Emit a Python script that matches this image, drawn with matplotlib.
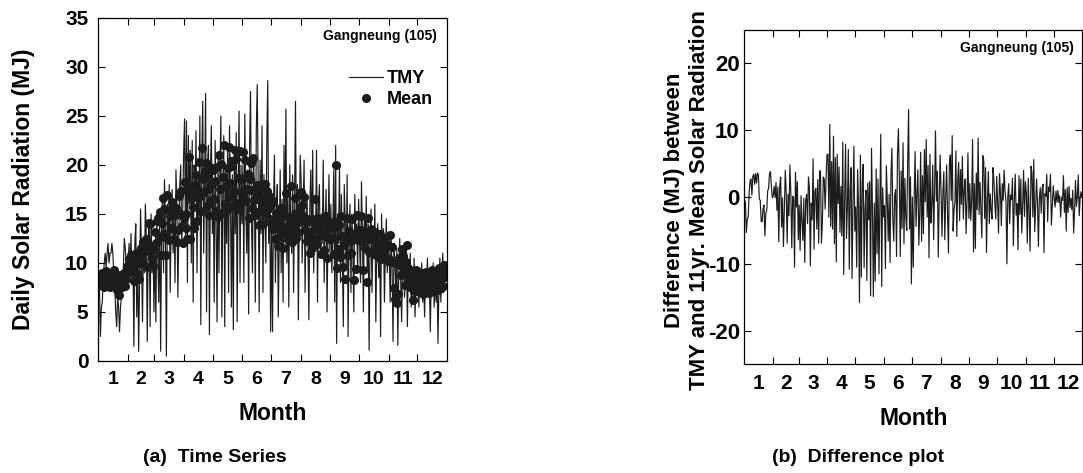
"""Daily solar radiation at Gangneung: TMY vs 11-yr mean, and their difference."""

import matplotlib
import matplotlib.pyplot as plt
import numpy as np

matplotlib.use("Agg")

plt.rcParams["font.family"] = ["Liberation Sans", "DejaVu Sans"]
plt.rcParams["font.weight"] = "bold"
plt.rcParams["axes.unicode_minus"] = False

STATION = "Gangneung (105)"
MONTH_LABELS = [str(m) for m in range(1, 13)]
MONTH_DAYS = [31, 28, 31, 30, 31, 30, 31, 31, 30, 31, 30, 31]

# daily TMY radiation (MJ), one line per month
TMY = [
    8.0, 7.5, 2.5, 5.5, 6.0, 8.5, 10.0, 11.0, 9.5, 11.0, 12.0, 10.0, 11.0, 11.0, 12.0, 11.0,
    9.0, 7.5, 5.0, 3.5, 6.5, 5.5, 3.0, 5.5, 6.5, 8.5, 9.5, 12.5, 11.5, 10.0, 9.5,
    10.0, 12.0, 9.0, 13.0, 8.0, 11.0, 1.5, 12.0, 14.0, 4.5, 10.5, 1.0, 8.0, 15.5,
    11.0, 4.0, 12.5, 9.0, 16.0, 13.0, 2.0, 12.0, 14.0, 3.5, 15.0, 9.0, 12.0, 5.0,
    12.0, 4.0, 14.5, 11.0, 6.0, 15.0, 1.0, 13.5, 17.0, 9.0, 18.5, 14.0, 0.5, 16.0, 12.0,
    18.0, 7.0, 14.5, 17.5, 11.0, 15.0, 8.0, 19.5, 16.0, 6.5, 13.0, 18.0, 20.0, 12.0, 15.0, 21.0,
    24.7, 12.0, 24.5, 8.0, 23.0, 16.0, 21.5, 10.0, 22.5, 6.0, 20.0, 17.0, 23.5, 9.0, 19.0,
    14.5, 25.0, 3.7, 21.0, 26.5, 11.0, 18.0, 27.3, 5.0, 20.0, 22.0, 2.7, 19.0, 24.0, 13.0,
    18.0, 6.0, 22.5, 14.0, 4.0, 21.0, 9.0, 19.5, 25.0, 4.5, 17.0, 23.0, 3.5, 20.0, 12.0, 22.0,
    7.0, 24.0, 16.5, 5.5, 19.0, 3.2, 21.5, 13.0, 23.3, 4.0, 18.0, 25.5, 8.0, 20.0, 14.0,
    20.0, 8.0, 25.2, 16.0, 11.0, 19.5, 4.8, 22.0, 27.5, 14.0, 9.0, 21.0, 17.5, 6.0, 23.5,
    28.2, 18.0, 5.0, 20.5, 13.0, 24.0, 7.0, 19.0, 15.0, 10.0, 22.5, 28.6, 12.0, 17.5, 3.0,
    14.0, 3.0, 16.0, 21.0, 8.0, 15.5, 18.0, 4.5, 12.0, 19.5, 9.0, 16.5, 6.0, 22.0, 13.0, 25.7,
    10.0, 17.0, 5.5, 20.0, 14.0, 11.0, 19.0, 7.0, 16.0, 26.5, 12.0, 18.0, 4.2, 15.0, 21.0,
    18.0, 10.0, 15.5, 20.5, 7.0, 14.0, 17.0, 12.0, 4.2, 16.0, 19.5, 11.0, 21.5, 9.0, 14.5, 13.0,
    21.5, 6.0, 16.0, 18.0, 10.5, 15.0, 12.0, 20.5, 8.0, 14.0, 17.5, 5.0, 13.0, 19.0, 11.0,
    16.0, 9.0, 13.0, 19.5, 6.0, 22.0, 1.8, 15.0, 12.0, 20.0, 8.0, 17.0, 11.0, 3.5, 18.0,
    14.0, 9.5, 19.0, 2.5, 13.0, 16.0, 7.0, 15.0, 11.0, 5.0, 17.0, 12.0, 14.0, 9.0, 16.5,
    12.0, 8.0, 18.3, 13.0, 5.0, 15.0, 11.0, 16.8, 9.0, 14.0, 1.1, 12.5, 15.5, 7.0, 13.0, 10.5,
    16.0, 4.0, 11.5, 14.0, 8.5, 12.0, 2.5, 15.0, 10.0, 13.5, 6.0, 11.0, 14.5, 9.0, 12.5,
    11.0, 6.0, 13.0, 9.5, 2.0, 12.0, 10.0, 7.0, 11.5, 1.6, 9.0, 12.5, 8.0, 4.0, 10.5,
    11.0, 6.5, 9.0, 12.0, 3.5, 10.0, 8.5, 11.0, 5.5, 9.5, 7.0, 10.5, 4.5, 8.0, 9.0,
    8.0, 5.5, 9.5, 7.0, 10.0, 6.0, 8.5, 4.5, 9.0, 7.5, 10.5, 6.5, 8.0, 3.0, 9.0, 7.0,
    10.0, 5.5, 8.5, 6.0, 9.5, 1.8, 7.5, 10.5, 6.0, 9.0, 11.0, 7.0, 8.5, 10.0, 9.0,
]

# daily 11-yr mean radiation (MJ), one line per month
MEAN = [
    8.5, 8.2, 7.8, 8.8, 9.0, 8.0, 7.6, 8.3, 9.2, 7.9, 8.6, 8.1, 7.5, 8.9, 8.4, 7.7,
    9.3, 8.0, 8.6, 7.2, 8.3, 6.7, 8.8, 7.9, 8.5, 7.6, 8.2, 9.0, 7.7, 8.4, 9.6,
    9.8, 10.4, 9.1, 10.8, 10.0, 9.5, 8.2, 10.3, 11.0, 9.0, 10.6, 8.4, 9.9, 11.5,
    10.2, 10.9, 12.1, 11.8, 11.2, 12.4, 9.6, 11.9, 14.1, 14.0, 11.3, 10.5, 9.7, 11.4,
    13.2, 12.0, 14.3, 14.6, 12.5, 15.2, 10.8, 14.1, 16.6, 13.0, 15.5, 12.7, 10.8, 16.9, 15.4,
    12.3, 14.8, 13.6, 16.2, 15.8, 12.4, 14.9, 15.6, 12.1, 13.4, 16.8, 15.0, 17.3, 13.8, 12.0, 14.6,
    18.3, 15.0, 13.6, 12.4, 17.7, 20.8, 12.4, 17.0, 16.6, 15.7, 13.6, 18.0, 19.0, 14.3, 17.4,
    20.3, 16.8, 15.3, 21.7, 18.6, 17.2, 19.4, 20.2, 15.8, 18.9, 17.6, 14.9, 19.8, 16.4, 18.1,
    19.5, 16.5, 18.4, 15.3, 19.8, 14.7, 21.0, 17.5, 20.1, 15.1, 18.8, 22.0, 16.0, 17.9, 15.4, 19.7,
    21.8, 16.7, 18.2, 20.4, 19.9, 15.8, 17.3, 21.5, 20.6, 15.5, 18.7, 16.1, 21.4, 18.6, 17.0,
    21.3, 18.7, 20.5, 16.3, 17.6, 19.1, 14.6, 18.6, 20.2, 17.4, 15.6, 20.7, 16.4, 14.9, 17.1,
    18.0, 15.2, 13.9, 16.6, 17.7, 15.9, 14.0, 16.2, 18.1, 15.0, 17.3, 15.5, 16.8, 14.5, 16.0,
    14.0, 13.5, 16.3, 14.2, 12.4, 15.1, 13.9, 11.7, 14.5, 12.8, 15.6, 13.3, 11.5, 14.9, 13.7, 17.1,
    13.0, 12.3, 14.6, 13.6, 17.9, 12.1, 14.2, 13.4, 15.0, 16.6, 12.6, 14.1, 13.2, 15.3, 14.7,
    17.2, 15.9, 14.8, 16.7, 13.4, 14.2, 12.2, 14.5, 12.6, 11.0, 13.2, 11.5, 12.3, 14.1, 16.5, 13.8,
    14.6, 11.9, 13.5, 12.8, 14.0, 10.9, 13.1, 14.4, 11.3, 12.9, 14.8, 10.5, 13.7, 12.4, 14.2,
    14.0, 12.5, 13.6, 10.9, 14.2, 20.0, 9.5, 11.4, 13.9, 11.2, 10.6, 14.8, 12.8, 9.6, 11.8,
    8.4, 12.7, 14.6, 10.8, 13.3, 12.2, 11.0, 14.5, 13.0, 8.3, 12.6, 9.4, 14.9, 12.3, 13.4,
    12.9, 13.4, 14.8, 12.2, 9.3, 13.0, 11.5, 12.8, 8.1, 14.6, 11.1, 12.4, 13.5, 11.0, 12.7, 10.9,
    13.2, 11.3, 12.0, 10.6, 11.2, 13.0, 10.4, 11.8, 12.6, 10.8, 11.4, 12.3, 10.5, 11.9, 10.2,
    10.4, 12.9, 10.2, 11.6, 10.1, 7.4, 6.3, 10.0, 5.9, 6.8, 10.5, 9.8, 8.8, 11.4, 10.7,
    9.6, 8.9, 7.8, 10.1, 11.8, 9.5, 8.4, 7.6, 9.2, 8.0, 6.2, 7.1, 8.7, 9.3, 7.3,
    8.2, 7.0, 8.6, 7.8, 9.0, 6.8, 8.3, 7.5, 9.1, 8.0, 7.3, 8.8, 6.9, 8.1, 7.6, 9.3,
    8.4, 7.1, 8.7, 7.9, 8.5, 7.2, 9.5, 8.0, 7.4, 8.9, 7.7, 9.8, 8.6, 9.2, 9.0,
]

assert len(TMY) == sum(MONTH_DAYS) and len(MEAN) == sum(MONTH_DAYS)

tmy = np.array(TMY)
mean = np.array(MEAN)
diff = tmy - mean
days = np.arange(len(tmy)) + 0.5

edges = np.cumsum([0] + MONTH_DAYS)
centers = (edges[:-1] + edges[1:]) / 2

INK = "#1c1c1c"


def style_month_axis(ax, tick_size, month_size, ypad):
    ax.set_xlim(0, edges[-1])
    ax.set_xticks(edges[1:-1])
    ax.set_xticklabels([])
    ax.set_xticks(centers, minor=True)
    ax.set_xticklabels(MONTH_LABELS, minor=True, fontsize=month_size, fontweight="bold")
    ax.tick_params(axis="x", which="major", direction="in", length=5, top=True, width=0.8)
    ax.tick_params(axis="x", which="minor", length=0, pad=7)
    ax.tick_params(axis="y", direction="in", length=5, right=True, width=0.8,
                   labelsize=tick_size, pad=ypad)
    for lab in ax.get_yticklabels():
        lab.set_fontweight("bold")
    for s in ax.spines.values():
        s.set_linewidth(0.9)
    ax.set_xlabel("Month", fontsize=16.5, fontweight="bold", labelpad=10)


fig = plt.figure(figsize=(10.83, 4.73), dpi=100)

# (a) time series
ax1 = fig.add_axes([0.0905, 0.2368, 0.3223, 0.7252])
ax1.plot(days, tmy, color=INK, linewidth=0.85, label="TMY")
ax1.plot(days, mean, "o", color=INK, markersize=5.5, label="Mean")
ax1.set_ylim(0, 35)
ax1.set_yticks(range(0, 36, 5))
style_month_axis(ax1, 15, 14, 7)
ax1.set_ylabel("Daily Solar Radiation (MJ)", fontsize=16.5, fontweight="bold")
ax1.yaxis.set_label_coords(-0.18, 0.5)
ax1.text(0.97, 0.948, STATION, transform=ax1.transAxes, ha="right", va="center",
         fontsize=10, fontweight="bold")
ax1.legend(loc="upper right", bbox_to_anchor=(1.005, 0.895), frameon=False,
           handlelength=1.9, handletextpad=0.2, labelspacing=0.2,
           prop={"size": 13, "weight": "bold"})

# (b) difference plot
ax2 = fig.add_axes([0.687, 0.2304, 0.3125, 0.7061])
ax2.plot(days, diff, color=INK, linewidth=0.85)
ax2.set_ylim(-25, 25)
ax2.set_yticks([-20, -10, 0, 10, 20])
style_month_axis(ax2, 16, 15, 3)
ax2.set_ylabel("Difference (MJ) between\nTMY and 11yr. Mean Solar Radiation",
               fontsize=16, fontweight="bold", linespacing=1.25)
ax2.yaxis.set_label_coords(-0.1, 0.49)
ax2.text(0.975, 0.945, STATION, transform=ax2.transAxes, ha="right", va="center",
         fontsize=10, fontweight="bold")

caption_font = ["Liberation Sans Narrow", "Liberation Sans", "DejaVu Sans"]
fig.text(0.198, 0.032, "(a)  Time Series", ha="center", va="center", fontsize=14,
         fontweight="bold", family=caption_font)
fig.text(0.792, 0.032, "(b)  Difference plot", ha="center", va="center", fontsize=14,
         fontweight="bold", family=caption_font)

fig.savefig("out.png", dpi=100)
plt.close(fig)
